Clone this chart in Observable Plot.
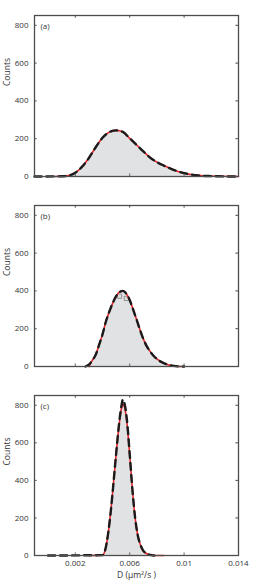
<!DOCTYPE html>
<html><head><meta charset="utf-8">
<script src="https://cdn.jsdelivr.net/npm/d3@7"></script>
<script src="https://cdn.jsdelivr.net/npm/@observablehq/plot@0.6"></script>
<style>body{margin:0;background:#fff} #chart svg{display:block}</style>
</head><body><div id="chart"></div>
<script>
// Shared axes
const xDomain = [-0.001, 0.014];
const yDomain = [0, 852];
const yTicks = [0, 200, 400, 600, 800];
const xTicks = [0.002, 0.006, 0.01, 0.014];
const xTickLabels = ["0.002", "0.006", "0.01", "0.014"];
const panelLabels = ["(a)", "(b)", "(c)"];

// Panel (a)
const dA = [0.001,0.0015,0.002,0.0025,0.003,0.0035,0.004,0.0045,0.005,0.0055,0.006,0.0065,0.007,0.0075,0.008,0.0085,0.009,0.0095,0.01,0.0105,0.011,0.0115,0.012,0.0125];
const histA = [1,5,20,52,98,155,205,235,244,236,202,168,133,100,76,58,42,28,18,11,6,3,2,1];
const lineA = [1,5,20,52,98,155,205,235,244,236,202,168,133,100,76,58,42,28,18,11,6,3,2,1];
const fitA = [1,5,20,52,98,155,205,235,244,236,202,168,133,100,76,58,42,28,18,11,6,3,2,1];
const dataRangeA = [-0.001, 0.014];
const fitRangeA = [0.0005, 0.014];

// Panel (b)
const dB = [0.00275,0.003,0.00325,0.0035,0.00375,0.004,0.00425,0.0045,0.00475,0.005,0.00525,0.0055,0.00575,0.006,0.00625,0.0065,0.00675,0.007,0.00725,0.0075,0.00775,0.008,0.00825,0.0085,0.00875,0.009,0.00925,0.0095,0.00975];
const histB = [0,10,32,62,115,170,238,290,335,370,372,395,360,352,302,250,196,146,108,80,57,40,27,18,11,6,3,1,0];
const lineB = [0,10,32,62,115,170,238,290,335,372,394,400,386,352,302,250,196,146,108,80,57,40,27,18,11,6,3,1,0];
const fitB = [0,10,32,62,115,170,238,290,335,370,395,400,385,352,302,250,196,146,108,80,57,40,27,18,11,6,3,1,0];
const dataRangeB = [0.00275, 0.0100];
const fitRangeB = [0.0030, 0.0099];
const markersB = [0.00525, 0.00575];

// Panel (c)
const dC = [0.004,0.0042,0.0044,0.0046,0.0048,0.005,0.0052,0.0054,0.0055,0.0056,0.0058,0.006,0.0062,0.0064,0.0066,0.0068,0.007,0.0072,0.0074,0.0076,0.0078];
const histC = [2,30,110,230,380,540,690,800,830,815,720,540,350,200,105,55,25,12,5,2,0];
const lineC = [2,30,110,230,380,540,690,800,830,815,720,540,350,200,105,55,25,12,5,2,0];
const fitC = [2,30,110,230,380,540,680,785,805,795,705,535,350,200,105,55,25,12,5,2,0];
const dataRangeC = [0.0, 0.0078];
const fitRangeC = [0.003, 0.0085];

function withEnds(D, vals, range) {
  const pts = D.map((d, i) => ({D: d, c: vals[i]})).filter(p => p.D > range[0] && p.D < range[1]);
  return [{D: range[0], c: 0}, ...pts, {D: range[1], c: 0}];
}

function panel(label, D, hist, line, fit, dataRange, fitRange, markerDs, showX) {
  const H = D.map((d, i) => ({D: d, c: hist[i]}));
  const L = D.map((d, i) => ({D: d, c: line[i]}));
  const M = H.filter(p => markerDs.includes(p.D));
  const black = withEnds(D, line, dataRange);
  const red = withEnds(D, fit, fitRange);
  const tx = 0.00019, ty = 14;
  const marks = [
    Plot.areaY(L, {x: "D", y: "c", fill: "#e1e2e4", curve: "monotone-x"}),
    Plot.dot(M, {x: "D", y: "c", symbol: "square", r: 2.4, stroke: "#8a8a8a", fill: "#dcdcdc", strokeWidth: 0.9}),
    Plot.lineY(red, {x: "D", y: "c", stroke: "#e8262b", strokeWidth: 1.6, curve: "monotone-x"}),
    Plot.lineY(black, {x: "D", y: "c", stroke: "#1b1b1b", strokeWidth: 2.4, strokeDasharray: "7,5", curve: "monotone-x"}),
    Plot.frame({stroke: "#4d4d4d", strokeWidth: 1.3}),
    Plot.ruleY(yTicks.slice(1), {x1: xDomain[0], x2: xDomain[0] + tx, stroke: "#4d4d4d"}),
    Plot.ruleY(yTicks.slice(1), {x1: xDomain[1] - tx, x2: xDomain[1], stroke: "#4d4d4d"}),
    Plot.ruleX(xTicks.slice(0, 3), {y1: yDomain[1] - ty, y2: yDomain[1], stroke: "#4d4d4d"}),
    Plot.ruleX(xTicks.slice(0, 3), {y1: 0, y2: ty, stroke: "#4d4d4d", strokeWidth: 0.8}),
    Plot.axisY(yTicks, {tickSize: 0, tickPadding: 6, label: null, tickFormat: d => String(d), fill: "#333", fontSize: 8}),
    Plot.text([label], {frameAnchor: "top-left", dx: 6, dy: 8, textAnchor: "start", fill: "#333", fontSize: 8}),
    Plot.text(["Counts"], {frameAnchor: "left", dx: -27, dy: -10, rotate: -90, fill: "#333", fontSize: 8.5})
  ];
  if (showX) {
    marks.push(Plot.axisX(xTicks, {tickSize: 0, tickPadding: 5, label: null, tickFormat: d => xTickLabels[xTicks.indexOf(d)], fill: "#333", fontSize: 8}));
    marks.push(Plot.text(["D (\u03bcm\u00b2/s )"], {frameAnchor: "bottom", dy: 22, fill: "#333", fontSize: 8.5}));
  }
  return Plot.plot({
    width: 263,
    height: showX ? 204 : 190,
    marginLeft: 34,
    marginRight: 25,
    marginTop: 15,
    marginBottom: showX ? 29 : 14,
    style: {fontFamily: "'Open Sans', sans-serif", fontSize: "8px", color: "#333", background: "#fff"},
    x: {domain: xDomain, axis: null},
    y: {domain: yDomain, axis: null},
    marks
  });
}

const root = document.getElementById("chart");
root.appendChild(panel(panelLabels[0], dA, histA, lineA, fitA, dataRangeA, fitRangeA, [], false));
root.appendChild(panel(panelLabels[1], dB, histB, lineB, fitB, dataRangeB, fitRangeB, markersB, false));
root.appendChild(panel(panelLabels[2], dC, histC, lineC, fitC, dataRangeC, fitRangeC, [], true));
</script>
</body></html>
